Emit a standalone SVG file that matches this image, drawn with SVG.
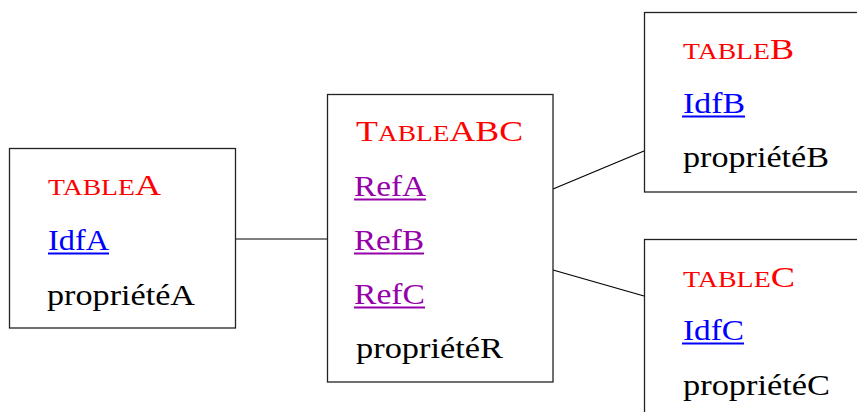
<svg xmlns="http://www.w3.org/2000/svg" width="857" height="412" viewBox="0 0 857 412">
<style>
.box{fill:#fff;stroke:#222;stroke-width:1.3}
.t{font-family:"Liberation Serif","Times New Roman",serif;font-size:30px}
.sc{font-size:23px}
.title{fill:#ff0000}
.idf{fill:#0000ff}
.ref{fill:#9500aa}
.prop{fill:#000}
.ul-idf{stroke:#0000ff;stroke-width:2.2}
.ul-ref{stroke:#9500aa;stroke-width:2.2}
.conn{stroke:#000;stroke-width:1.2;fill:none}
</style>
<rect width="857" height="412" fill="#fff"/>
<g id="connectors">
<line class="conn" x1="236" y1="239" x2="327" y2="239"/>
<line class="conn" x1="553" y1="189" x2="644" y2="151"/>
<line class="conn" x1="553" y1="270" x2="644" y2="296"/>
</g>
<g id="tableA">
<rect class="box" x="9.5" y="148.5" width="226" height="179.5"/>
<text class="t title" x="48" y="195" textLength="113" lengthAdjust="spacingAndGlyphs"><tspan class="sc">TABLE</tspan>A</text>
<text class="t idf" x="48" y="250" textLength="61" lengthAdjust="spacingAndGlyphs">IdfA</text>
<line class="ul-idf" x1="48" y1="253.5" x2="109" y2="253.5"/>
<text class="t prop" x="47" y="305" textLength="148" lengthAdjust="spacingAndGlyphs">propriétéA</text>
</g>
<g id="tableABC">
<rect class="box" x="327.5" y="94.5" width="225.5" height="287.5"/>
<text class="t title" x="356" y="141" textLength="167" lengthAdjust="spacingAndGlyphs">T<tspan class="sc">ABLE</tspan>ABC</text>
<text class="t ref" x="354" y="196" textLength="72" lengthAdjust="spacingAndGlyphs">RefA</text>
<line class="ul-ref" x1="354" y1="199.5" x2="426" y2="199.5"/>
<text class="t ref" x="354" y="250" textLength="70" lengthAdjust="spacingAndGlyphs">RefB</text>
<line class="ul-ref" x1="354" y1="253.5" x2="424" y2="253.5"/>
<text class="t ref" x="354" y="304" textLength="71" lengthAdjust="spacingAndGlyphs">RefC</text>
<line class="ul-ref" x1="354" y1="307.5" x2="425" y2="307.5"/>
<text class="t prop" x="356" y="358" textLength="147" lengthAdjust="spacingAndGlyphs">propriétéR</text>
</g>
<g id="tableB">
<rect class="box" x="644.5" y="12.5" width="230" height="179.5"/>
<text class="t title" x="683" y="59" textLength="111" lengthAdjust="spacingAndGlyphs"><tspan class="sc">TABLE</tspan>B</text>
<text class="t idf" x="683" y="113" textLength="62" lengthAdjust="spacingAndGlyphs">IdfB</text>
<line class="ul-idf" x1="682" y1="116.5" x2="745" y2="116.5"/>
<text class="t prop" x="683" y="167" textLength="146" lengthAdjust="spacingAndGlyphs">propriétéB</text>
</g>
<g id="tableC">
<rect class="box" x="644.5" y="239.5" width="230" height="200"/>
<text class="t title" x="683" y="287" textLength="112" lengthAdjust="spacingAndGlyphs"><tspan class="sc">TABLE</tspan>C</text>
<text class="t idf" x="683" y="340" textLength="61" lengthAdjust="spacingAndGlyphs">IdfC</text>
<line class="ul-idf" x1="682" y1="343.5" x2="744" y2="343.5"/>
<text class="t prop" x="683" y="395" textLength="147" lengthAdjust="spacingAndGlyphs">propriétéC</text>
</g>
</svg>
